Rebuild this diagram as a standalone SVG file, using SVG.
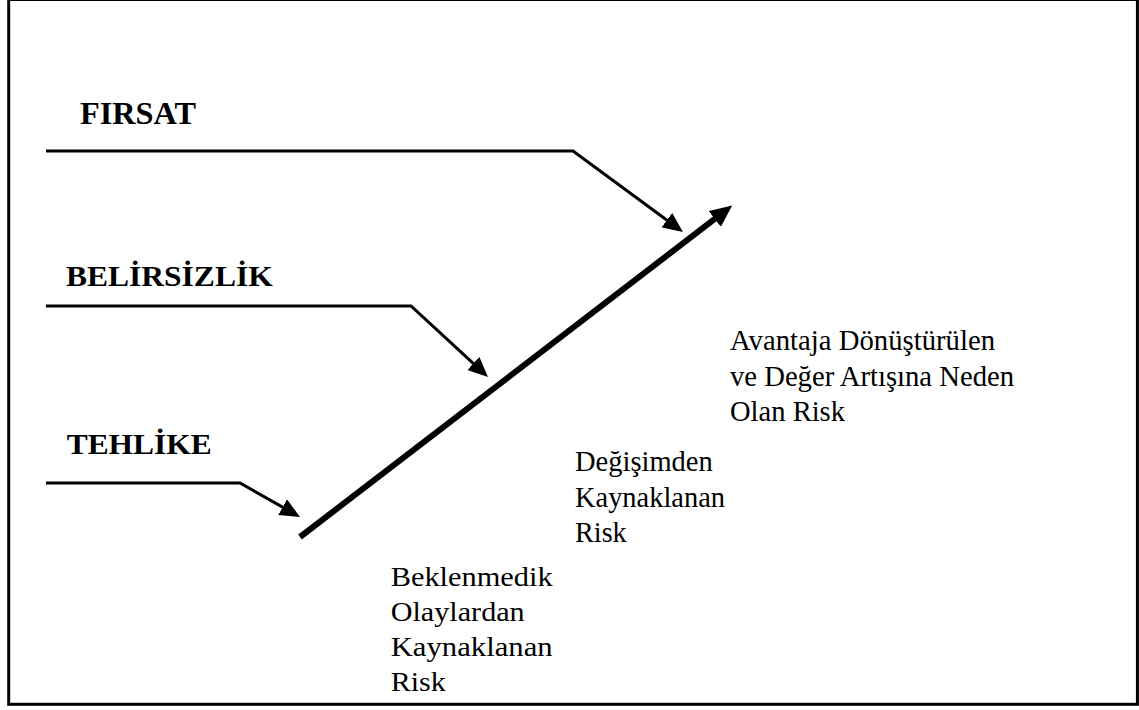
<svg xmlns="http://www.w3.org/2000/svg" width="1139" height="710" viewBox="0 0 1139 710">
  <style>
    .frame { fill: none; stroke: #000; stroke-width: 3; }
    .feed { fill: none; stroke: #000; stroke-width: 3; stroke-linejoin: miter; }
    .axis { fill: none; stroke: #000; stroke-width: 6; }
    .head { font-family: "Liberation Serif", "Times New Roman", serif; font-weight: bold; fill: #000; }
    .note { font-family: "Liberation Serif", "Times New Roman", serif; font-size: 29px; fill: #000; }
    .note-low { font-family: "Liberation Serif", "Times New Roman", serif; font-size: 27.5px; fill: #000; }
  </style>
  <defs>
    <marker id="tip" markerUnits="userSpaceOnUse" viewBox="0 0 20 18" markerWidth="20" markerHeight="18" refX="7" refY="9" orient="auto">
      <path d="M0,0 L20,9 L0,18 z" fill="#000"/>
    </marker>
    <marker id="tip-big" markerUnits="userSpaceOnUse" viewBox="0 0 22 20" markerWidth="22" markerHeight="20" refX="7" refY="10" orient="auto">
      <path d="M0,0 L22,10 L0,20 z" fill="#000"/>
    </marker>
  </defs>

  <rect id="frame" class="frame" x="8.7" y="-0.5" width="1128.7" height="704.8"/>

  <!-- risk sources: label with its feed line -->
  <g id="firsat">
    <text class="head" x="80" y="124" font-size="32" textLength="116" lengthAdjust="spacingAndGlyphs">FIRSAT</text>
  </g>
  <g id="belirsizlik">
    <text class="head" x="66" y="286" font-size="30" textLength="206.7" lengthAdjust="spacingAndGlyphs">BELİRSİZLİK</text>
  </g>
  <g id="tehlike">
    <text class="head" x="66.7" y="454" font-size="30" textLength="145" lengthAdjust="spacingAndGlyphs">TEHLİKE</text>
  </g>

  <!-- outcome labels along the rising axis -->
  <g id="avantaja">
    <text class="note" x="730" y="350" textLength="265" lengthAdjust="spacingAndGlyphs">Avantaja Dönüştürülen</text>
    <text class="note" x="730" y="386" textLength="284" lengthAdjust="spacingAndGlyphs">ve Değer Artışına Neden</text>
    <text class="note" x="730" y="421" textLength="115" lengthAdjust="spacingAndGlyphs">Olan Risk</text>
  </g>
  <g id="degisim">
    <text class="note" x="575" y="471" textLength="137.7" lengthAdjust="spacingAndGlyphs">Değişimden</text>
    <text class="note" x="575" y="507" textLength="150" lengthAdjust="spacingAndGlyphs">Kaynaklanan</text>
    <text class="note" x="575" y="542" textLength="51.7" lengthAdjust="spacingAndGlyphs">Risk</text>
  </g>
  <g id="beklenmedik">
    <text class="note-low" x="390.7" y="585.7" textLength="162" lengthAdjust="spacingAndGlyphs">Beklenmedik</text>
    <text class="note-low" x="390.7" y="620.7" textLength="134" lengthAdjust="spacingAndGlyphs">Olaylardan</text>
    <text class="note-low" x="390.7" y="655.7" textLength="162" lengthAdjust="spacingAndGlyphs">Kaynaklanan</text>
    <text class="note-low" x="390.7" y="691" textLength="55" lengthAdjust="spacingAndGlyphs">Risk</text>
  </g>

  <g id="connectors">
    <polyline class="feed" points="46,151 573,151 672.5,224.3" marker-end="url(#tip)"/>
    <polyline class="feed" points="46,306 411,306 478.4,368.2" marker-end="url(#tip)"/>
    <polyline class="feed" points="46,483 240,483 288.7,510.6" marker-end="url(#tip)"/>
    <line class="axis" x1="300" y1="537" x2="720.3" y2="214.7" marker-end="url(#tip-big)"/>
  </g>
</svg>
